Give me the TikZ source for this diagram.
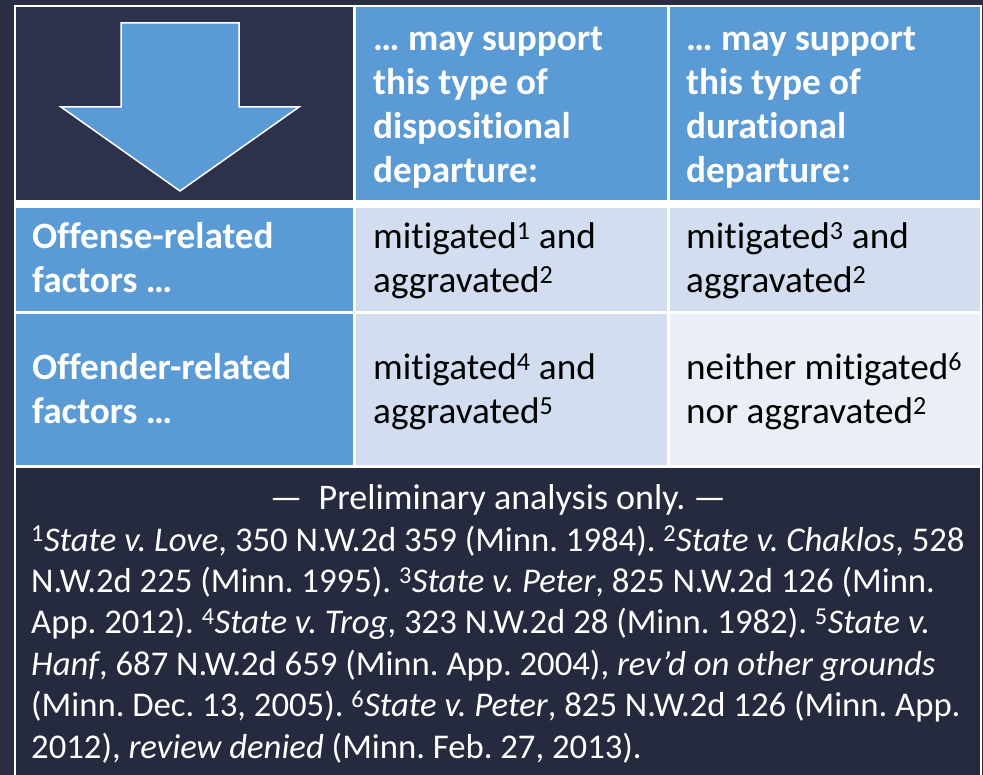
\documentclass[tikz,border=0pt]{standalone}
\usepackage{fontspec}
\setmainfont{Carlito}[Ligatures=NoCommon]
\frenchspacing
\definecolor{bgnavy}{HTML}{2A2E45}
\definecolor{hdnavy}{HTML}{2D314B}
\definecolor{ftnavy}{HTML}{252A3E}
\definecolor{cellblue}{HTML}{5B9BD5}
\definecolor{lightA}{HTML}{D2DEEF}
\definecolor{lightB}{HTML}{EAEFF7}
\tikzset{
  cell/.style={anchor=north west, inner sep=0pt, outer sep=0pt, draw=none},
  bigtxt/.style={anchor=base west, inner sep=0pt, align=left, font=\fontsize{37.2}{44.3}\selectfont},
  hdtxt/.style={bigtxt, text=white, font=\fontsize{37.2}{44.3}\selectfont\bfseries},
  bodytxt/.style={bigtxt, text=black},
  foottxt/.style={anchor=base west, inner sep=0pt, align=left, text=white, font=\fontsize{34.7}{41.4}\selectfont\frenchspacing}
}
\begin{document}
\begin{tikzpicture}[x=1pt,y=-1pt]
\useasboundingbox (0,0) rectangle (983,775);
\fill[bgnavy] (0,0) rectangle (983,775);
\node[cell, fill=white, minimum width=968pt, minimum height=770pt] (frame) at (14,5) {};
% header row
\node[cell, fill=hdnavy, minimum width=337pt, minimum height=193pt] (h1) at (16,7) {};
\node[cell, fill=cellblue, minimum width=311pt, minimum height=193pt] (h2) at (356,7) {};
\node[cell, fill=cellblue, minimum width=310pt, minimum height=193pt] (h3) at (670,7) {};
% row 2
\node[cell, fill=cellblue, minimum width=337pt, minimum height=103pt] (r1c1) at (16,208) {};
\node[cell, fill=lightA, minimum width=311pt, minimum height=103pt] (r1c2) at (356,208) {};
\node[cell, fill=lightA, minimum width=310pt, minimum height=103pt] (r1c3) at (670,208) {};
% row 3
\node[cell, fill=cellblue, minimum width=337pt, minimum height=151pt] (r2c1) at (16,314) {};
\node[cell, fill=lightA, minimum width=311pt, minimum height=151pt] (r2c2) at (356,314) {};
\node[cell, fill=lightB, minimum width=310pt, minimum height=151pt] (r2c3) at (670,314) {};
% footer
\node[cell, fill=ftnavy, minimum width=964pt, minimum height=307pt] (foot) at (16,468) {};
% arrow
\draw[fill=cellblue, draw=white, line width=1.5pt, line join=miter]
  (121,23) -- (239,23) -- (239,107) -- (299,107) -- (180,191) -- (61,107) -- (121,107) -- cycle;
% header texts (anchor = baseline of last line)
\node[hdtxt] (t2) at (373,183) {… may support\\this type of\\dispositional\\departure:};
\node[hdtxt] (t3) at (686,183) {… may support\\this type of\\durational\\departure:};
% row labels
\node[hdtxt] (l1) at (32,293) {Offense-related\\factors …};
\node[hdtxt] (l2) at (32,424) {Offender-related\\factors …};
% body
\node[bodytxt] (b11) at (373,293) {mitigated\textsuperscript{1} and\\aggravated\textsuperscript{2}};
\node[bodytxt] (b12) at (686,293) {mitigated\textsuperscript{3} and\\aggravated\textsuperscript{2}};
\node[bodytxt] (b21) at (373,424) {mitigated\textsuperscript{4} and\\aggravated\textsuperscript{5}};
\node[bodytxt] (b22) at (686,424) {neither mitigated\textsuperscript{6}\\nor aggravated\textsuperscript{2}};
% footer text
\node[anchor=base, inner sep=0pt, text=white, font=\fontsize{36}{41.4}\selectfont] (prelim) at (498,509) {—\ \ Preliminary analysis only. —};
\node[foottxt] (notes) at (31,758) {%
\textsuperscript{1}\textit{State v. Love}, 350 N.W.2d 359 (Minn. 1984). \textsuperscript{2}\textit{State v. Chaklos}, 528\\
N.W.2d 225 (Minn. 1995). \textsuperscript{3}\textit{State v. Peter}, 825 N.W.2d 126 (Minn.\\
App. 2012). \textsuperscript{4}\textit{State v. Trog}, 323 N.W.2d 28 (Minn. 1982). \textsuperscript{5}\textit{State v.}\\
\textit{Hanf}, 687 N.W.2d 659 (Minn. App. 2004), \textit{rev’d on other grounds}\\
(Minn. Dec. 13, 2005). \textsuperscript{6}\textit{State v. Peter}, 825 N.W.2d 126 (Minn. App.\\
2012), \textit{review denied} (Minn. Feb. 27, 2013).};
\end{tikzpicture}
\end{document}
